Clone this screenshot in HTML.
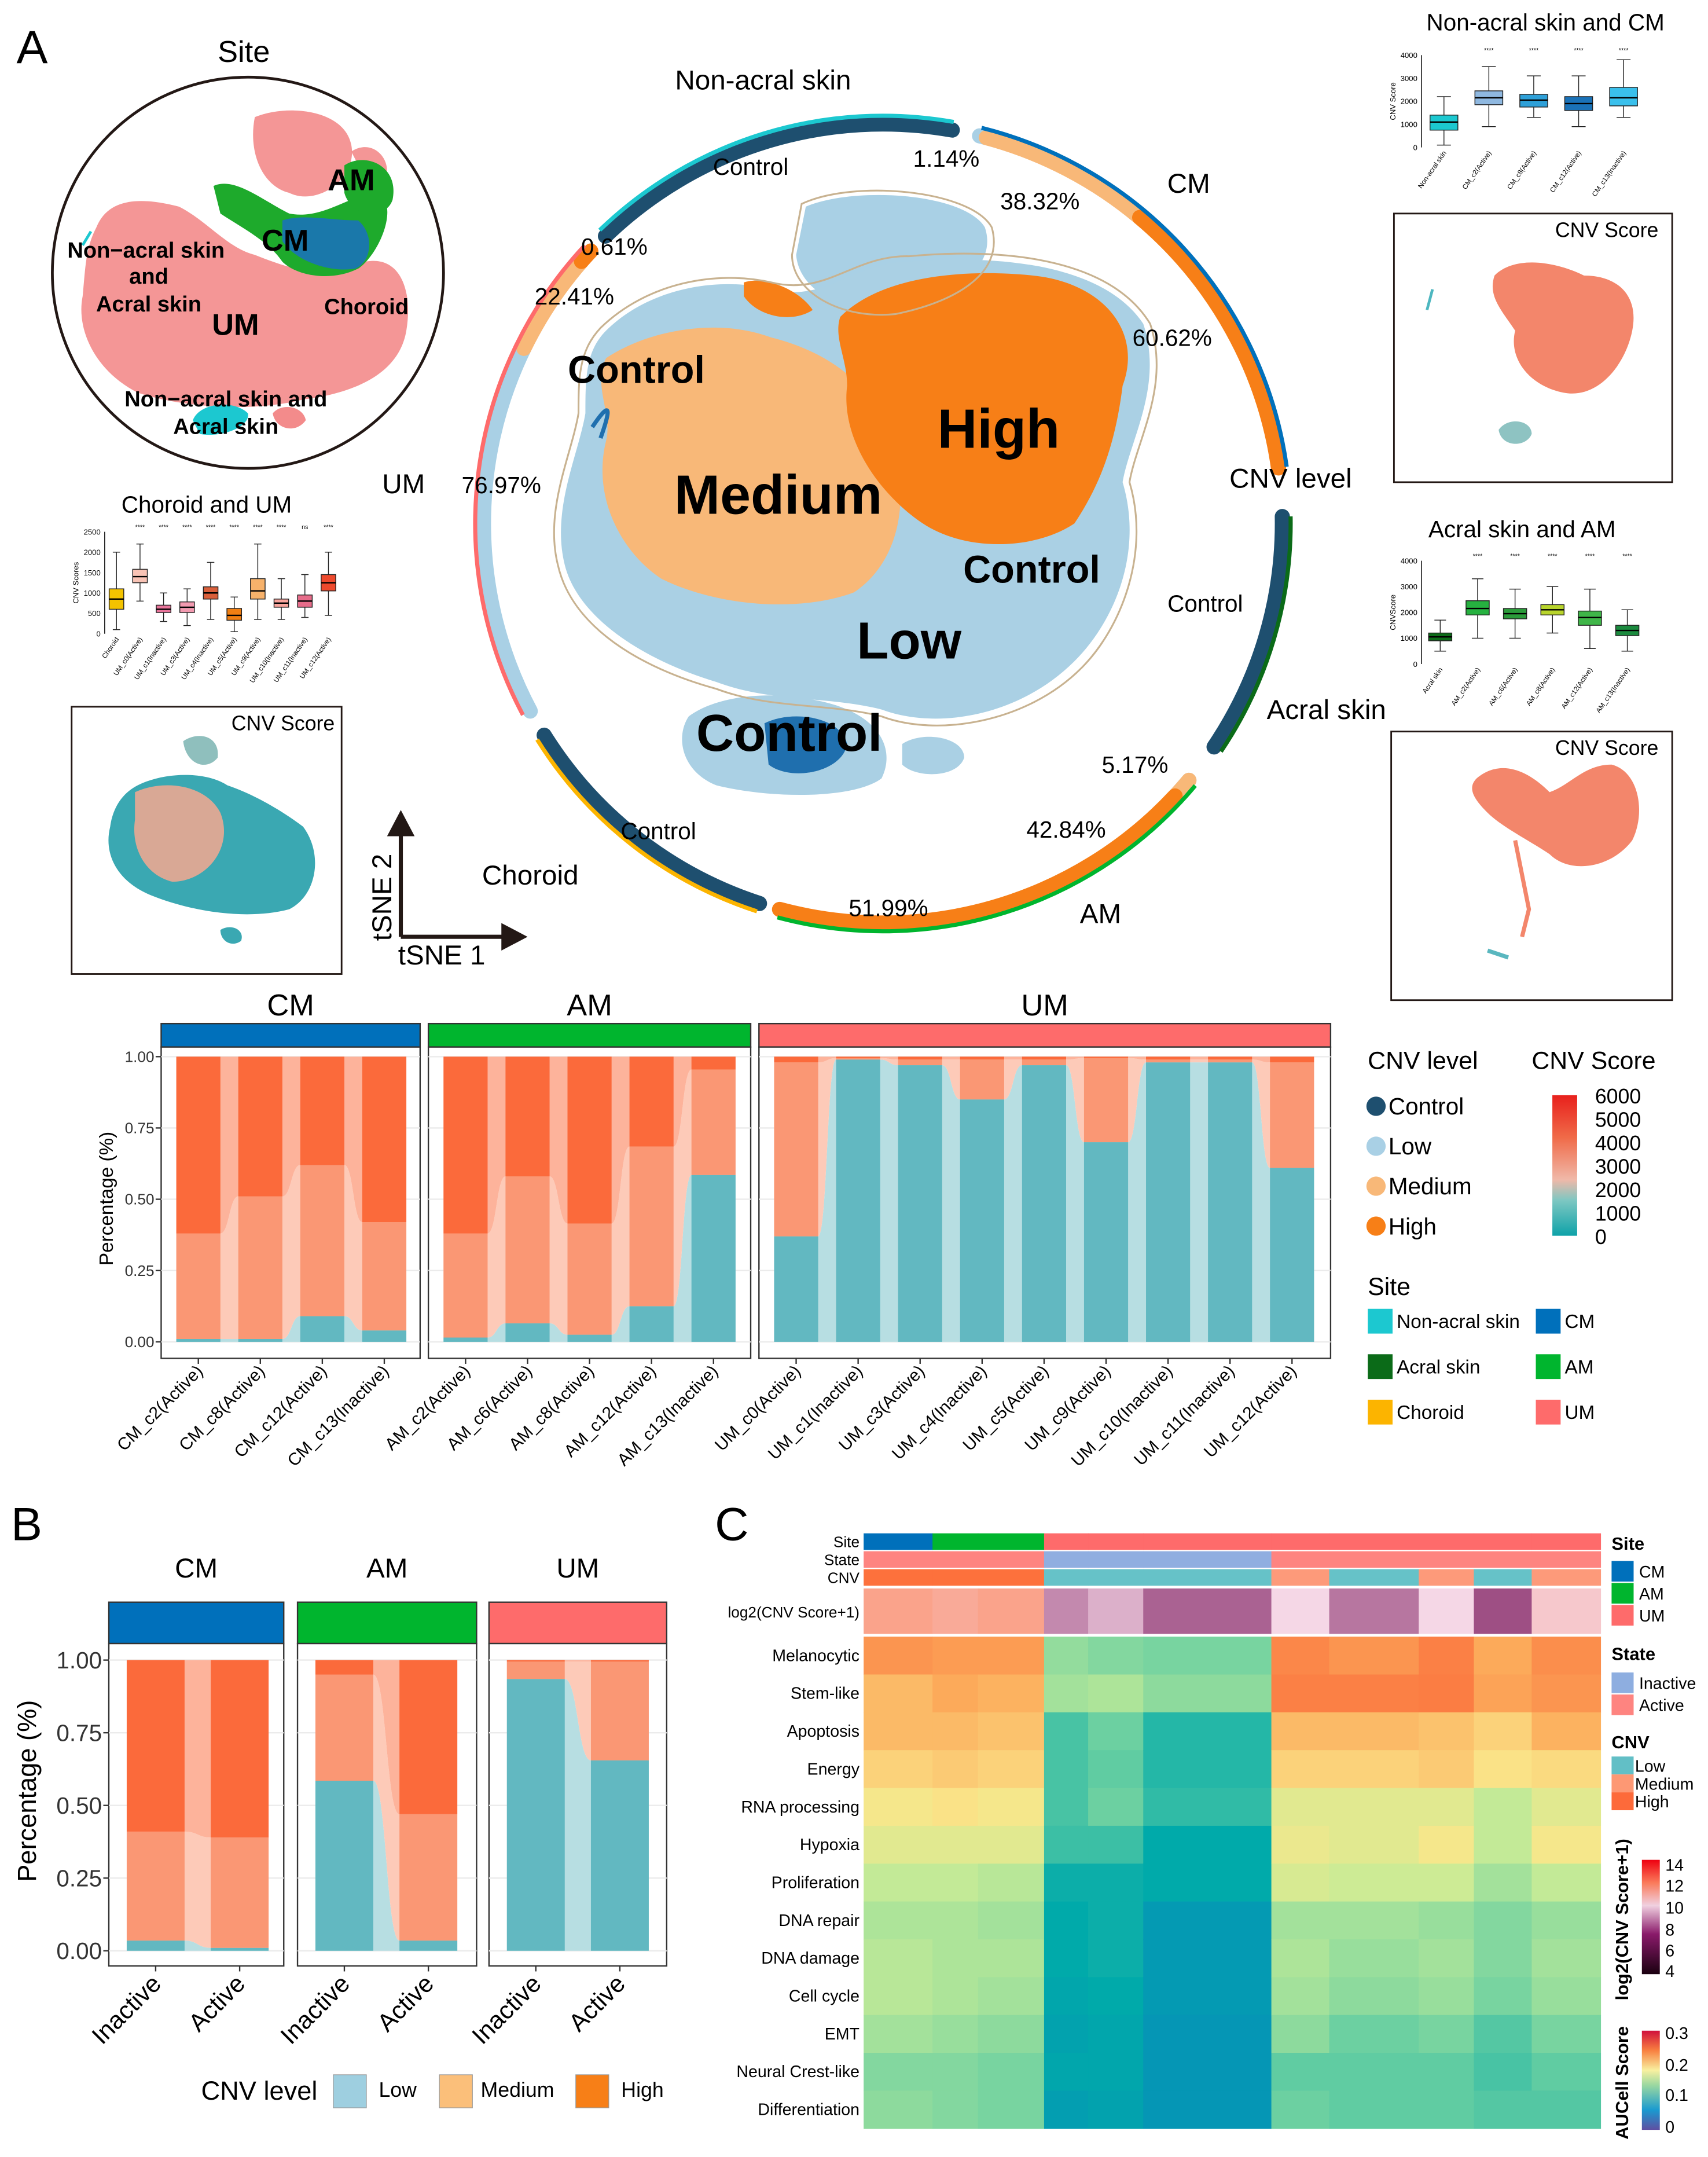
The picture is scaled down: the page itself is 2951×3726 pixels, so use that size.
<!DOCTYPE html>
<html><head><meta charset="utf-8">
<style>
html,body{margin:0;padding:0;background:#fff;}
svg{display:block;font-family:"Liberation Sans",Arial,sans-serif;}
</style></head>
<body>
<svg id="fig" width="2951" height="3726" viewBox="0 0 1240 1565.7" preserveAspectRatio="none" xmlns="http://www.w3.org/2000/svg">
<rect x="0" y="0" width="1240" height="1566" fill="#fff"/>

<!-- ===== Panel A labels ===== -->
<text x="12" y="46" font-size="34">A</text>
<text x="177" y="45" font-size="22" text-anchor="middle">Site</text>

<!-- Site circle -->
<g>
<clipPath id="siteclip"><circle cx="180" cy="198" r="141"/></clipPath>
<g clip-path="url(#siteclip)">
<path d="M370 175 C365 160 385 165 410 170 L420 198 L380 200 Z" fill="none"/>
<path d="M185 85 C210 75 250 80 255 105 C260 130 230 150 210 140 C190 135 180 110 185 85 Z" fill="#f38b8b" opacity="0.9"/>
<path d="M70 165 C80 140 110 145 130 150 C150 160 165 180 185 185 C210 195 240 205 265 190 C290 185 300 210 295 240 C290 270 260 285 220 290 C180 300 130 295 100 285 C70 270 55 240 60 215 C62 195 62 180 70 165 Z" fill="#f38b8b" opacity="0.9"/>
<path d="M255 110 C270 100 285 115 280 130 L268 135 Z" fill="#f38b8b" opacity="0.9"/>
<path d="M155 135 C170 128 190 145 210 155 C235 160 255 140 275 140 C290 150 275 185 260 195 C240 205 215 200 205 190 C195 175 175 165 160 155 Z" fill="#1eaa2c"/>
<path d="M250 120 C265 110 290 120 285 145 C280 160 255 158 250 140 Z" fill="#1eaa2c"/>
<path d="M205 160 C220 155 240 160 260 160 C272 170 270 190 258 195 C240 198 215 190 205 175 Z" fill="#1a72b8" opacity="0.9"/>
<path d="M140 305 C145 292 170 290 180 300 C182 310 160 318 145 315 Z" fill="#1cc8d0"/>
<path d="M198 300 C205 292 220 295 222 305 C215 315 200 312 198 300 Z" fill="#f38b8b"/>
<path d="M66 168 L60 178" stroke="#1cc8d0" stroke-width="2"/>
</g>
<circle cx="180" cy="198" r="142" fill="none" stroke="#231815" stroke-width="2"/>
<g font-weight="bold" font-size="16" text-anchor="middle" fill="#000">
<text x="106" y="187">Non−acral skin</text>
<text x="108" y="206">and</text>
<text x="108" y="226">Acral skin</text>
<text x="171" y="243" font-size="22">UM</text>
<text x="207" y="182" font-size="22">CM</text>
<text x="255" y="138" font-size="22">AM</text>
<text x="266" y="228">Choroid</text>
<text x="164" y="295">Non−acral skin and</text>
<text x="164" y="315">Acral skin</text>
</g>
</g>

<!-- Central tSNE -->
<g>
<path d="M585 150 C620 135 700 140 715 165 C725 195 690 215 650 225 C610 228 580 210 578 185 Z" fill="#a9d0e5"/>
<path d="M440 240 C470 210 520 200 560 210 C600 220 620 190 660 190 C720 185 800 190 830 235 C845 280 820 320 815 350 C830 400 810 450 780 480 C740 520 680 530 640 515 C600 505 560 510 520 495 C470 480 420 450 410 410 C400 370 420 330 425 300 C425 275 425 255 440 240 Z" fill="#aad0e4"/>
<path d="M500 520 C520 505 560 500 600 510 C640 520 650 545 640 565 C620 580 560 580 520 570 C495 560 490 535 500 520 Z" fill="#aad0e4"/>
<path d="M655 540 C670 530 700 535 700 550 C695 565 665 565 655 555 Z" fill="#aad0e4"/>
<path d="M555 525 C575 515 610 520 615 540 C612 560 575 568 558 555 Z" fill="#1f6fae"/>
<path d="M440 260 C470 240 520 230 560 245 C600 255 640 280 650 330 C660 370 650 410 620 430 C580 445 520 440 480 420 C450 400 430 360 440 320 C445 300 430 280 440 260 Z" fill="#f8b878"/>
<path d="M610 230 C640 200 700 195 750 200 C800 205 830 240 815 280 C810 320 800 350 780 380 C750 400 700 400 670 380 C640 360 610 320 615 280 C615 260 605 245 610 230 Z" fill="#f77f17"/>
<path d="M540 205 C555 200 580 210 590 225 C575 235 550 230 540 215 Z" fill="#f77f17"/>
<path d="M430 310 C440 295 446 290 436 318" stroke="#1f6fae" stroke-width="3" fill="none"/>
<path d="M582 148 C620 130 705 138 720 165 C730 200 690 220 650 228 C610 232 575 212 575 185 Z M436 238 C470 205 520 196 560 205 C600 215 620 185 660 186 C725 180 805 186 835 235 C850 280 825 320 820 350 C835 400 815 455 785 485 C745 525 680 535 640 520 C600 510 560 515 520 500 C465 485 415 455 405 410 C395 370 415 330 420 300 C420 275 420 255 436 238 Z" fill="none" stroke="#c8b290" stroke-width="1.3"/>
<g font-weight="bold" fill="#000">
<text x="462" y="278" font-size="28" text-anchor="middle">Control</text>
<text x="725" y="325" font-size="40" text-anchor="middle">High</text>
<text x="565" y="373" font-size="40" text-anchor="middle">Medium</text>
<text x="749" y="423" font-size="28" text-anchor="middle">Control</text>
<text x="660" y="478" font-size="38" text-anchor="middle">Low</text>
<text x="573" y="545" font-size="38" text-anchor="middle">Control</text>
</g>
</g>

<!-- Ring arcs (script) -->
<g id="ring"></g>
<g font-size="20" fill="#000">
<text x="554" y="65" text-anchor="middle">Non-acral skin</text>
<text x="545" y="127" font-size="17" text-anchor="middle">Control</text>
<text x="687" y="121" font-size="17" text-anchor="middle">1.14%</text>
<text x="863" y="140" text-anchor="middle">CM</text>
<text x="755" y="152" font-size="17" text-anchor="middle">38.32%</text>
<text x="851" y="251" font-size="17" text-anchor="middle">60.62%</text>
<text x="937" y="354" text-anchor="middle">CNV level</text>
<text x="875" y="444" font-size="17" text-anchor="middle">Control</text>
<text x="963" y="522" text-anchor="middle">Acral skin</text>
<text x="824" y="561" font-size="17" text-anchor="middle">5.17%</text>
<text x="774" y="608" font-size="17" text-anchor="middle">42.84%</text>
<text x="799" y="670" text-anchor="middle">AM</text>
<text x="645" y="665" font-size="17" text-anchor="middle">51.99%</text>
<text x="478" y="609" font-size="17" text-anchor="middle">Control</text>
<text x="385" y="642" text-anchor="middle">Choroid</text>
<text x="293" y="358" text-anchor="middle">UM</text>
<text x="364" y="358" font-size="17" text-anchor="middle">76.97%</text>
<text x="446" y="185" font-size="17" text-anchor="middle">0.61%</text>
<text x="417" y="221" font-size="17" text-anchor="middle">22.41%</text>
</g>

<!-- tSNE axes arrows -->
<g>
<path d="M291 680 L291 600 M291 680 L370 680" stroke="#231815" stroke-width="3" fill="none"/>
<path d="M281 607 L291 588 L301 607 Z" fill="#231815"/>
<path d="M364 670 L383 680 L364 690 Z" fill="#231815"/>
<text x="289" y="700" font-size="20">tSNE 1</text>
<text transform="translate(284,683) rotate(-90)" font-size="20">tSNE 2</text>
</g>

<!-- Box plots -->
<g id="boxes"></g>
<text x="1122" y="22" font-size="17" text-anchor="middle">Non-acral skin and CM</text>
<text x="150" y="372" font-size="17" text-anchor="middle">Choroid and UM</text>
<text x="1105" y="390" font-size="17" text-anchor="middle">Acral skin and AM</text>

<!-- CNV score insets -->
<g>
<rect x="1012" y="155" width="202" height="195" fill="#fff" stroke="#231815" stroke-width="1.2"/>
<text x="1204" y="172" font-size="15" text-anchor="end">CNV Score</text>
<path d="M1085 200 C1100 185 1130 190 1150 200 C1175 200 1190 215 1185 240 C1180 265 1160 290 1135 285 C1110 280 1095 260 1100 240 C1090 225 1080 215 1085 200 Z" fill="#f3866b"/>
<path d="M1088 312 C1095 302 1112 305 1112 315 C1108 325 1090 325 1088 312 Z" fill="#8ec3c2"/>
<path d="M1040 210 L1036 225" stroke="#4db7c0" stroke-width="2"/>
</g>
<g>
<rect x="1010" y="531" width="204" height="195" fill="#fff" stroke="#231815" stroke-width="1.2"/>
<text x="1204" y="548" font-size="15" text-anchor="end">CNV Score</text>
<path d="M1072 565 C1090 550 1110 560 1125 575 C1140 570 1150 555 1170 555 C1190 560 1195 590 1185 610 C1170 630 1140 635 1125 620 C1110 610 1090 600 1080 590 C1070 580 1065 572 1072 565 Z" fill="#f3866b"/>
<path d="M1100 610 L1110 660 L1105 680" stroke="#f3866b" stroke-width="3" fill="none"/>
<path d="M1080 690 L1095 695" stroke="#5ab7bf" stroke-width="3"/>
</g>
<g>
<rect x="52" y="513" width="196" height="194" fill="#fff" stroke="#231815" stroke-width="1.2"/>
<text x="243" y="530" font-size="15" text-anchor="end">CNV Score</text>
<path d="M133 538 C145 530 160 535 158 550 C150 560 135 555 133 538 Z" fill="#8fbfbd"/>
<path d="M100 570 C120 560 150 560 165 570 C180 575 200 585 220 600 C235 620 230 650 210 660 C180 668 140 662 110 650 C85 640 75 620 80 600 C82 585 90 575 100 570 Z" fill="#3aa8b2"/>
<path d="M98 575 C120 565 150 570 160 590 C170 615 150 640 125 640 C105 635 95 615 98 595 Z" fill="#d9a895"/>
<path d="M160 675 C168 670 178 675 175 683 C168 688 160 683 160 675 Z" fill="#3aa8b2"/>
</g>

<!-- ===== A bottom stacked chart ===== -->
<g id="stackA"></g>
<text transform="translate(82,870) rotate(-90)" font-size="14" text-anchor="middle">Percentage (%)</text>

<!-- Legend A -->
<g>
<text x="993" y="776" font-size="18">CNV level</text>
<circle cx="999" cy="803" r="7" fill="#1e4f6f"/><text x="1008" y="809" font-size="17">Control</text>
<circle cx="999" cy="832" r="7" fill="#a9d0e5"/><text x="1008" y="838" font-size="17">Low</text>
<circle cx="999" cy="861" r="7" fill="#f8b878"/><text x="1008" y="867" font-size="17">Medium</text>
<circle cx="999" cy="890" r="7" fill="#f77f17"/><text x="1008" y="896" font-size="17">High</text>
<text x="1112" y="776" font-size="18">CNV Score</text>
<defs><linearGradient id="cnvg" x1="0" y1="1" x2="0" y2="0">
<stop offset="0" stop-color="#0ea2a8"/><stop offset="0.25" stop-color="#7cc7c2"/><stop offset="0.4" stop-color="#f0b8a8"/><stop offset="0.7" stop-color="#f06a48"/><stop offset="1" stop-color="#e8201c"/></linearGradient></defs>
<rect x="1127" y="795" width="18" height="102" fill="url(#cnvg)"/>
<g font-size="15"><text x="1158" y="801">6000</text><text x="1158" y="818">5000</text><text x="1158" y="835">4000</text><text x="1158" y="852">3000</text><text x="1158" y="869">2000</text><text x="1158" y="886">1000</text><text x="1158" y="903">0</text></g>
<text x="993" y="940" font-size="18">Site</text>
<rect x="993" y="950" width="18" height="18" fill="#1cc8d0"/><text x="1014" y="964" font-size="14">Non-acral skin</text>
<rect x="1115" y="950" width="18" height="18" fill="#0070bb"/><text x="1136" y="964" font-size="14">CM</text>
<rect x="993" y="983" width="18" height="18" fill="#0b6b18"/><text x="1014" y="997" font-size="14">Acral skin</text>
<rect x="1115" y="983" width="18" height="18" fill="#00b52e"/><text x="1136" y="997" font-size="14">AM</text>
<rect x="993" y="1016" width="18" height="18" fill="#fcb400"/><text x="1014" y="1030" font-size="14">Choroid</text>
<rect x="1115" y="1016" width="18" height="18" fill="#fe6b6b"/><text x="1136" y="1030" font-size="14">UM</text>
</g>

<!-- ===== Panel B ===== -->
<text x="8" y="1118" font-size="34">B</text>
<g id="stackB"></g>
<text transform="translate(26,1300) rotate(-90)" font-size="19" text-anchor="middle">Percentage (%)</text>
<g>
<text x="146" y="1524" font-size="19">CNV level</text>
<rect x="242" y="1506" width="24" height="24" fill="#9ecfe0" stroke="#999" stroke-width="0.5"/><text x="275" y="1522" font-size="15">Low</text>
<rect x="319" y="1506" width="24" height="24" fill="#fbbf7a" stroke="#999" stroke-width="0.5"/><text x="349" y="1522" font-size="15">Medium</text>
<rect x="418" y="1506" width="24" height="24" fill="#f77f17" stroke="#999" stroke-width="0.5"/><text x="451" y="1522" font-size="15">High</text>
</g>

<!-- ===== Panel C ===== -->
<text x="519" y="1118" font-size="34">C</text>
<g id="heat"></g>
<g font-size="12">
<text x="1170" y="1125" font-size="13" font-weight="bold">Site</text>
<rect x="1170" y="1133" width="16" height="15" fill="#0070bb"/><text x="1190" y="1145">CM</text>
<rect x="1170" y="1149" width="16" height="15" fill="#00b52e"/><text x="1190" y="1161">AM</text>
<rect x="1170" y="1165" width="16" height="15" fill="#fe6b6b"/><text x="1190" y="1177">UM</text>
<text x="1170" y="1205" font-size="13" font-weight="bold">State</text>
<rect x="1170" y="1214" width="16" height="15" fill="#8eaee0"/><text x="1190" y="1226">Inactive</text>
<rect x="1170" y="1230" width="16" height="15" fill="#fe8480"/><text x="1190" y="1242">Active</text>
<text x="1170" y="1269" font-size="13" font-weight="bold">CNV</text>
<rect x="1170" y="1275" width="16" height="13" fill="#62bfc6"/><text x="1187" y="1286">Low</text>
<rect x="1170" y="1288" width="16" height="13" fill="#fd9874"/><text x="1187" y="1299">Medium</text>
<rect x="1170" y="1301" width="16" height="13" fill="#fd6a3a"/><text x="1187" y="1312">High</text>
<defs>
<linearGradient id="lg2" x1="0" y1="1" x2="0" y2="0"><stop offset="0" stop-color="#1a0010"/><stop offset="0.35" stop-color="#8a1a6a"/><stop offset="0.6" stop-color="#f0d0e0"/><stop offset="0.8" stop-color="#fa7a5a"/><stop offset="1" stop-color="#ee0010"/></linearGradient>
<linearGradient id="aug" x1="0" y1="1" x2="0" y2="0"><stop offset="0" stop-color="#5e4fa2"/><stop offset="0.2" stop-color="#1a9ad0"/><stop offset="0.45" stop-color="#9ad8a0"/><stop offset="0.6" stop-color="#f8f0a0"/><stop offset="0.8" stop-color="#f88040"/><stop offset="1" stop-color="#d0103c"/></linearGradient>
</defs>
<text transform="translate(1182,1452) rotate(-90)" font-size="13" font-weight="bold">log2(CNV Score+1)</text>
<rect x="1192" y="1350" width="13" height="83" fill="url(#lg2)"/>
<text x="1209" y="1358">14</text><text x="1209" y="1373">12</text><text x="1209" y="1389">10</text><text x="1209" y="1405">8</text><text x="1209" y="1420">6</text><text x="1209" y="1435">4</text>
<text transform="translate(1182,1553) rotate(-90)" font-size="13" font-weight="bold">AUCell Score</text>
<rect x="1192" y="1474" width="13" height="72" fill="url(#aug)"/>
<text x="1209" y="1480">0.3</text><text x="1209" y="1503">0.2</text><text x="1209" y="1525">0.1</text><text x="1209" y="1548">0</text>
</g>
</svg>

<script>
const NS="http://www.w3.org/2000/svg";
function mk(tag,parent,attrs){const e=document.createElementNS(NS,tag);for(const k in attrs)e.setAttribute(k,attrs[k]);parent.appendChild(e);return e;}

/* ---------- Ring data ---------- */
const ringSegNames=["nonacral-control","nonacral-outer","cm-low","cm-medium","cm-high","cm-outer","acral-control","acral-outer","am-low","am-medium","am-high","am-outer","choroid-control","choroid-outer","um-low","um-medium","um-high","um-outer"];
const ringStart=[-134,-134,-76,-75,-50,-76,-1,-1,40,40,43,40,108,108,152,206,221,152];
const ringEnd=[-80,-80,-75,-50,-8,-8,34,34,43,71,105,105,148,148,206,221,223,223];
const ringColor=["#1e4f6f","#1cc8d0","#a9d0e5","#f8b878","#f77f17","#0070bb","#1e4f6f","#0b6b18","#a9d0e5","#f8b878","#f77f17","#00b52e","#1e4f6f","#fcb400","#a9d0e5","#f8b878","#f77f17","#fe6b6b"];
const ringOuter=[0,1,0,0,0,1,0,1,0,0,0,1,0,1,0,0,0,1];
const ring=document.getElementById('ring');
const RC={x:641,y:380};
function arcPath(r,a0,a1){const t0=a0*Math.PI/180,t1=a1*Math.PI/180;const x0=RC.x+r*Math.cos(t0),y0=RC.y+r*Math.sin(t0),x1=RC.x+r*Math.cos(t1),y1=RC.y+r*Math.sin(t1);return `M${x0} ${y0} A${r} ${r} 0 ${(a1-a0)>180?1:0} 1 ${x1} ${y1}`;}
for(let i=0;i<ringStart.length;i++){
  const outer=ringOuter[i];
  const p=mk('path',ring,{d:arcPath(outer?296:290,ringStart[i],ringEnd[i]),stroke:ringColor[i],'stroke-width':outer?3:11,fill:'none','stroke-linecap':outer?'butt':'round'});
  
  
}

/* ---------- Box plots ---------- */
const boxes=document.getElementById('boxes');
const bp1Cats=["Non-acral skin","CM_c2(Active)","CM_c8(Active)","CM_c12(Active)","CM_c13(Inactive)"];
const bp1Med=[1100,2150,2050,1900,2150];const bp1Q1=[750,1850,1750,1600,1800];const bp1Q3=[1400,2450,2300,2200,2600];
const bp1Lo=[100,900,1300,900,1300];const bp1Hi=[2200,3500,3100,3100,3800];
const bp1Col=["#1cc8d0","#8fb8e0","#2ea0d8","#1a72b8","#3ac0ec"];
const bp1Ticks=[0,1000,2000,3000,4000];
const bp2Cats=["Choroid","UM_c0(Active)","UM_c1(Inactive)","UM_c3(Active)","UM_c4(Inactive)","UM_c5(Active)","UM_c9(Active)","UM_c10(Inactive)","UM_c11(Inactive)","UM_c12(Active)"];
const bp2Med=[850,1400,600,650,1000,450,1050,750,800,1250];const bp2Q1=[600,1250,520,520,850,330,850,650,650,1050];const bp2Q3=[1100,1580,700,780,1150,620,1350,850,950,1450];
const bp2Lo=[100,800,300,200,350,50,350,350,400,450];const bp2Hi=[2000,2200,1000,1100,1750,900,2200,1350,1450,2000];
const bp2Col=["#f3c300","#f8c3b5","#e8749a","#f29ab0","#d95f3b","#f07f13","#f7b26b","#f8a59d","#e66c8a","#ee4a2d"];
const bp2Ticks=[0,500,1000,1500,2000,2500];
const bp3Cats=["Acral skin","AM_c2(Active)","AM_c6(Active)","AM_c8(Active)","AM_c12(Active)","AM_c13(Inactive)"];
const bp3Med=[1050,2150,1950,2100,1800,1300];const bp3Q1=[900,1900,1750,1900,1500,1100];const bp3Q3=[1200,2450,2150,2300,2050,1500];
const bp3Lo=[500,1000,1000,1200,600,500];const bp3Hi=[1700,3300,2900,3000,2900,2100];
const bp3Col=["#0c6b18","#26b140","#2b9b3a","#b8d42c","#3fb548","#1b8a3e"];
const bp3Ticks=[0,1000,2000,3000,4000];
function boxplot(name,x0,x1,y0,y1,max,cats,med,q1,q3,lo,hi,col,ticks,ytitle){
  const g=mk('g',boxes,{});
  
  
  const ys=v=>y1-(v/max)*(y1-y0);
  mk('line',g,{x1:x0,y1:y0,x2:x0,y2:y1,stroke:'#000','stroke-width':0.6});
  ticks.forEach(t=>{const tt=mk('text',g,{x:x0-3,y:ys(t)+2,'font-size':5.5,'text-anchor':'end'});tt.textContent=t;});
  const yt=mk('text',g,{transform:`translate(${x0-19},${(y0+y1)/2}) rotate(-90)`,'font-size':5.5,'text-anchor':'middle'});yt.textContent=ytitle;
  const n=cats.length,step=(x1-x0)/n,w=step*0.62;
  for(let i=0;i<n;i++){
    const cx=x0+step*(i+0.5);
    mk('line',g,{x1:cx,y1:ys(lo[i]),x2:cx,y2:ys(hi[i]),stroke:'#222','stroke-width':0.6});
    mk('line',g,{x1:cx-w/4,y1:ys(hi[i]),x2:cx+w/4,y2:ys(hi[i]),stroke:'#222','stroke-width':0.6});
    mk('line',g,{x1:cx-w/4,y1:ys(lo[i]),x2:cx+w/4,y2:ys(lo[i]),stroke:'#222','stroke-width':0.6});
    const r=mk('rect',g,{x:cx-w/2,y:ys(q3[i]),width:w,height:ys(q1[i])-ys(q3[i]),fill:col[i],stroke:'#222','stroke-width':0.6});
    
    
    mk('line',g,{x1:cx-w/2,y1:ys(med[i]),x2:cx+w/2,y2:ys(med[i]),stroke:'#000','stroke-width':1});
    if(i>0){const s=mk('text',g,{x:cx,y:y0-2,'font-size':4.5,'text-anchor':'middle'});s.textContent=(name==='choroid-um'&&i===8)?'ns':'****';}
    const lt=mk('text',g,{transform:`translate(${cx+2},${y1+4}) rotate(-55)`,'font-size':5,'text-anchor':'end'});lt.textContent=cats[i];
  }
}
boxplot('nonacral-cm',1032,1195,40,107,4000,bp1Cats,bp1Med,bp1Q1,bp1Q3,bp1Lo,bp1Hi,bp1Col,bp1Ticks,'CNV Score');
boxplot('choroid-um',76,247,386,460,2500,bp2Cats,bp2Med,bp2Q1,bp2Q3,bp2Lo,bp2Hi,bp2Col,bp2Ticks,'CNV Scores');
boxplot('acral-am',1032,1195,407,482,4000,bp3Cats,bp3Med,bp3Q1,bp3Q3,bp3Lo,bp3Hi,bp3Col,bp3Ticks,'CNVScore');

/* ---------- Stacked chart A ---------- */
const aCM=["CM_c2(Active)","CM_c8(Active)","CM_c12(Active)","CM_c13(Inactive)"];
const aCMLow=[0.01,0.01,0.09,0.04];
const aCMTop=[0.38,0.51,0.62,0.42];
const aAM=["AM_c2(Active)","AM_c6(Active)","AM_c8(Active)","AM_c12(Active)","AM_c13(Inactive)"];
const aAMLow=[0.015,0.065,0.025,0.125,0.585];
const aAMTop=[0.38,0.58,0.415,0.685,0.955];
const aUM=["UM_c0(Active)","UM_c1(Inactive)","UM_c3(Active)","UM_c4(Inactive)","UM_c5(Active)","UM_c9(Active)","UM_c10(Inactive)","UM_c11(Inactive)","UM_c12(Active)"];
const aUMLow=[0.37,0.99,0.97,0.85,0.97,0.70,0.98,0.98,0.61];
const aUMTop=[0.98,0.995,0.99,0.99,0.99,0.995,0.99,0.99,0.98];
const aTicks=[0,0.25,0.5,0.75,1];
const aTickLabels=["0.00","0.25","0.50","0.75","1.00"];

const SOL={low:"#62b8c1",med:"#fa9774",high:"#fb6a3b"};
const LIT={low:"#b7dee2",med:"#fdcab8",high:"#fdb39b"};

function ribbon(g,xs,w,lowerArr,upperArr,fill,name){
  // smooth ribbon through bar edges
  let d='',n=xs.length;
  const pt=(i,arr,side)=>[xs[i]+(side?w:0),arr[i]];
  d=`M${xs[0]} ${upperArr[0]}`;
  for(let i=0;i<n;i++){
    if(i>0){const px=xs[i-1]+w,mx=(px+xs[i])/2;d+=` C${mx} ${upperArr[i-1]} ${mx} ${upperArr[i]} ${xs[i]} ${upperArr[i]}`;}
    d+=` L${xs[i]+w} ${upperArr[i]}`;
  }
  d+=` L${xs[n-1]+w} ${lowerArr[n-1]}`;
  for(let i=n-1;i>=0;i--){
    if(i<n-1){const nx=xs[i+1],mx=(nx+xs[i]+w)/2;d+=` C${mx} ${lowerArr[i+1]} ${mx} ${lowerArr[i]} ${xs[i]+w} ${lowerArr[i]}`;}
    d+=` L${xs[i]} ${lowerArr[i]}`;
  }
  d+=' Z';
  const p=mk('path',g,{d:d,fill:fill});
  
  
}

function stackPanel(root,opt){
  const g=mk('g',root,{});
  
  
  const ys=v=>opt.y0-v*(opt.y0-opt.y1);
  // title & strip
  const t=mk('text',g,{x:(opt.x0+opt.x1)/2,y:opt.titleY,'font-size':opt.titleSize,'text-anchor':'middle'});t.textContent=opt.title;
  
  
  const strip=mk('rect',g,{x:opt.x0,y:opt.sy0,width:opt.x1-opt.x0,height:opt.sy1-opt.sy0,fill:opt.color,stroke:'#333','stroke-width':1});
  
  
  mk('rect',g,{x:opt.x0,y:opt.sy1,width:opt.x1-opt.x0,height:opt.py1-opt.sy1,fill:'#fff',stroke:'#333','stroke-width':1});
  aTicks.forEach(v=>mk('line',g,{x1:opt.x0,x2:opt.x1,y1:ys(v),y2:ys(v),stroke:'#ebebeb','stroke-width':1}));
  const n=opt.cats.length;
  const xs=opt.cats.map((c,i)=>opt.x0+opt.pad+i*opt.step);
  const L=opt.low.map(ys),T=opt.top.map(ys),Z=opt.low.map(()=>ys(0)),O=opt.low.map(()=>ys(1));
  ribbon(g,xs,opt.w,Z,L,LIT.low,'ribbon-low-'+opt.title.toLowerCase());
  ribbon(g,xs,opt.w,L,T,LIT.med,'ribbon-medium-'+opt.title.toLowerCase());
  ribbon(g,xs,opt.w,T,O,LIT.high,'ribbon-high-'+opt.title.toLowerCase());
  for(let i=0;i<n;i++){
    const b1=mk('rect',g,{x:xs[i],y:L[i],width:opt.w,height:Z[i]-L[i],fill:SOL.low});
    
    
    const b2=mk('rect',g,{x:xs[i],y:T[i],width:opt.w,height:L[i]-T[i],fill:SOL.med});
    
    
    const b3=mk('rect',g,{x:xs[i],y:O[i],width:opt.w,height:T[i]-O[i],fill:SOL.high});
    
    
    const cx=xs[i]+opt.w/2;
    mk('line',g,{x1:cx,x2:cx,y1:opt.py1,y2:opt.py1+4,stroke:'#333','stroke-width':1});
    const lt=mk('text',g,{transform:`translate(${cx+opt.lblDx},${opt.py1+opt.lblDy}) rotate(${opt.rot})`,'font-size':opt.lblSize,'text-anchor':'end'});
    lt.textContent=opt.cats[i];
    
    
  }
  if(opt.yaxis){
    aTicks.forEach((v,i)=>{
      mk('line',g,{x1:opt.x0-4,x2:opt.x0,y1:ys(v),y2:ys(v),stroke:'#333','stroke-width':1});
      const tl=mk('text',g,{x:opt.x0-5,y:ys(v)+opt.tickSize*0.35,'font-size':opt.tickSize,'text-anchor':'end',fill:'#333'});
      tl.textContent=aTickLabels[i];
      
      
    });
  }
}
const SA=document.getElementById('stackA');
const baseA={titleY:737,titleSize:22,sy0:743,sy1:760,py1:986,y0:974,y1:767,pad:11,w:32,step:45,rot:-45,lblDx:4,lblDy:10,lblSize:12.5,tickSize:11};
stackPanel(SA,Object.assign({},baseA,{x0:117,x1:305,title:"CM",color:"#0070bb",cats:aCM,low:aCMLow,top:aCMTop,yaxis:true}));
stackPanel(SA,Object.assign({},baseA,{x0:311,x1:545,title:"AM",color:"#00b52e",cats:aAM,low:aAMLow,top:aAMTop,yaxis:false}));
stackPanel(SA,Object.assign({},baseA,{x0:551,x1:966,title:"UM",color:"#fe6b6b",cats:aUM,low:aUMLow,top:aUMTop,yaxis:false}));

/* ---------- Stacked chart B ---------- */
const bCats=["Inactive","Active"];
const bCMLow=[0.035,0.01];const bCMTop=[0.41,0.39];
const bAMLow=[0.585,0.035];const bAMTop=[0.95,0.47];
const bUMLow=[0.935,0.655];const bUMTop=[0.995,0.995];
const SB=document.getElementById('stackB');
const baseB={titleY:1145,titleSize:20,sy0:1163,sy1:1193,py1:1427,y0:1416,y1:1205,pad:13,w:42,step:61,rot:-45,lblDx:5,lblDy:14,lblSize:18,tickSize:17};
stackPanel(SB,Object.assign({},baseB,{x0:79,x1:206,title:"CM",color:"#0070bb",cats:bCats.map(c=>c),low:bCMLow,top:bCMTop,yaxis:true}));
stackPanel(SB,Object.assign({},baseB,{x0:216,x1:346,title:"AM",color:"#00b52e",cats:bCats.map(c=>c),low:bAMLow,top:bAMTop,yaxis:false}));
stackPanel(SB,Object.assign({},baseB,{x0:355,x1:484,title:"UM",color:"#fe6b6b",cats:bCats.map(c=>c),low:bUMLow,top:bUMTop,yaxis:false}));

/* ---------- Heatmap C ---------- */
const hRows=["Melanocytic","Stem-like","Apoptosis","Energy","RNA processing","Hypoxia","Proliferation","DNA repair","DNA damage","Cell cycle","EMT","Neural Crest-like","Differentiation"];
const hColEdges=[627,677,710,758,790,830,923,965,1030,1070,1112,1162];
const hColSite=["CM","AM","AM","UM","UM","UM","UM","UM","UM","UM","UM"];
const hColState=["Active","Active","Active","Inactive","Inactive","Inactive","Active","Active","Active","Active","Active"];
const hColCNV=["High","High","High","Low","Low","Low","Medium","Low","Medium","Low","Medium"];
const hColLog=[0.85,0.8,0.85,0.3,0.4,0.2,0.5,0.25,0.5,0.15,0.6];
const hVals=[
[0.86,0.84,0.84,0.45,0.42,0.40,0.90,0.86,0.92,0.80,0.88],
[0.76,0.80,0.78,0.48,0.50,0.44,0.92,0.92,0.93,0.82,0.86],
[0.76,0.76,0.74,0.32,0.38,0.26,0.76,0.76,0.74,0.70,0.78],
[0.70,0.72,0.70,0.32,0.36,0.26,0.70,0.70,0.72,0.66,0.68],
[0.64,0.66,0.64,0.32,0.38,0.28,0.60,0.60,0.60,0.54,0.60],
[0.60,0.60,0.60,0.30,0.30,0.20,0.62,0.60,0.64,0.54,0.64],
[0.54,0.54,0.52,0.22,0.22,0.20,0.58,0.56,0.56,0.48,0.54],
[0.50,0.50,0.48,0.20,0.22,0.12,0.48,0.48,0.46,0.42,0.46],
[0.52,0.50,0.50,0.20,0.22,0.12,0.50,0.46,0.48,0.42,0.48],
[0.52,0.50,0.48,0.18,0.20,0.12,0.48,0.44,0.46,0.40,0.46],
[0.48,0.46,0.44,0.16,0.18,0.10,0.44,0.38,0.40,0.34,0.40],
[0.42,0.42,0.40,0.18,0.18,0.10,0.36,0.36,0.36,0.32,0.36],
[0.44,0.42,0.40,0.14,0.16,0.10,0.38,0.36,0.36,0.34,0.34]];
const siteCol={CM:"#0070bb",AM:"#00b52e",UM:"#fe6b6b"};
const stateCol={Inactive:"#90aee0",Active:"#fe8480"};
const cnvCol={Low:"#66c2c8",Medium:"#fd9a7a",High:"#fd713c"};
const stops=[[0,[10,130,192]],[0.2,[0,170,170]],[0.4,[120,212,160]],[0.55,[200,236,150]],[0.65,[250,230,138]],[0.8,[252,170,90]],[1,[250,100,55]]];
function cmap(v){for(let i=1;i<stops.length;i++){if(v<=stops[i][0]){const a=stops[i-1],b=stops[i],t=(v-a[0])/(b[0]-a[0]);return `rgb(${a[1].map((c,k)=>Math.round(c+(b[1][k]-c)*t)).join(',')})`;}}return 'rgb(250,100,55)';}
function lmap(v){const a=[252,140,100],m=[245,215,230],b=[120,20,90];if(v>0.5){const t=(v-0.5)/0.5;return `rgb(${m.map((c,k)=>Math.round(c+(a[k]-c)*t)).join(',')})`;}const t=v/0.5;return `rgb(${b.map((c,k)=>Math.round(c+(m[k]-c)*t)).join(',')})`;}
const H=document.getElementById('heat');
const annY=[1113,1126,1139],annH=12,logY=1153,logH=33,rowY0=1188,rowH=(1545-1188)/hRows.length;
const annLabels=["Site","State","CNV"];
annLabels.forEach((l,i)=>{const t=mk('text',H,{x:624,y:annY[i]+10,'font-size':11,'text-anchor':'end'});t.textContent=l;
  
  });
const lt=mk('text',H,{x:624,y:logY+21,'font-size':11,'text-anchor':'end'});lt.textContent="log2(CNV Score+1)";


for(let c=0;c<hColSite.length;c++){
  const x=hColEdges[c],w=hColEdges[c+1]-x;
  const a1=mk('rect',H,{x:x,y:annY[0],width:w+0.3,height:annH,fill:siteCol[hColSite[c]]});
  
  
  const a2=mk('rect',H,{x:x,y:annY[1],width:w+0.3,height:annH,fill:stateCol[hColState[c]]});
  
  
  const a3=mk('rect',H,{x:x,y:annY[2],width:w+0.3,height:annH,fill:cnvCol[hColCNV[c]]});
  
  
  const a4=mk('rect',H,{x:x,y:logY,width:w+0.3,height:logH,fill:lmap(hColLog[c])});
  
  
  for(let r=0;r<hRows.length;r++){
    const cell=mk('rect',H,{x:x,y:rowY0+r*rowH,width:w+0.3,height:rowH+0.3,fill:cmap(hVals[r][c])});
    
    
  }
}
hRows.forEach((r,i)=>{const t=mk('text',H,{x:624,y:rowY0+i*rowH+rowH/2+4,'font-size':12,'text-anchor':'end'});t.textContent=r;
  
  });
</script>
</body></html>
